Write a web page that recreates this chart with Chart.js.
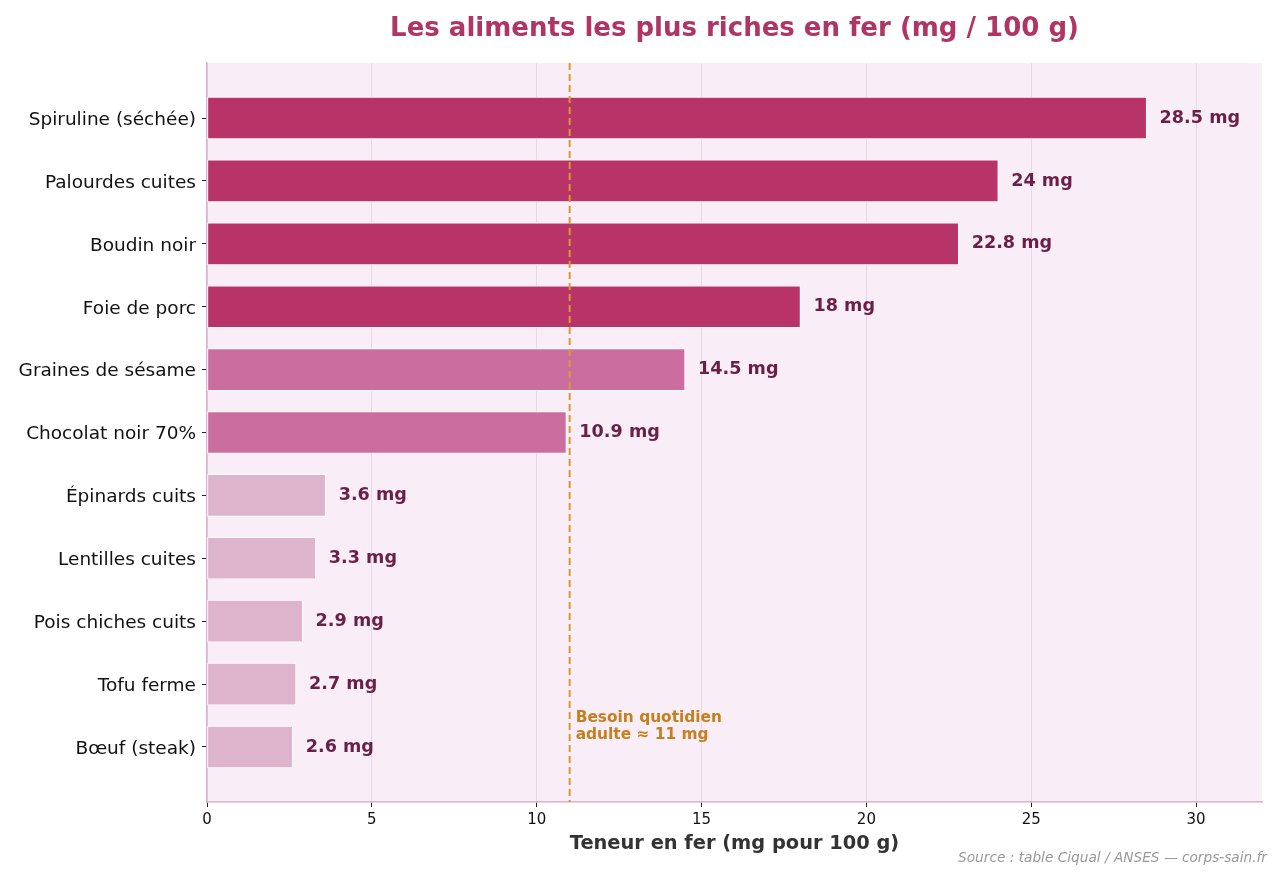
<!DOCTYPE html>
<html>
<head>
<meta charset="utf-8">
<script src="https://cdn.jsdelivr.net/npm/chart.js@4"></script>
<style>
  html, body { margin: 0; padding: 0; background: #fff; }
  #wrap { width: 1280px; height: 872px; }
</style>
</head>
<body>
<div id="wrap"><canvas id="chart" width="1280" height="872"></canvas></div>
<script>
const foods = ['Spiruline (séchée)', 'Palourdes cuites', 'Boudin noir', 'Foie de porc',
  'Graines de sésame', 'Chocolat noir 70%', 'Épinards cuits', 'Lentilles cuites',
  'Pois chiches cuits', 'Tofu ferme', 'Bœuf (steak)'];
const ironMg = [28.5, 24, 22.8, 18, 14.5, 10.9, 3.6, 3.3, 2.9, 2.7, 2.6];
const xTicks = [0, 5, 10, 15, 20, 25, 30];
const dailyNeed = 11;

const FONT = "'DejaVu Sans', sans-serif";

function barColor(v) {
  if (v >= 18) return '#b83368';
  if (v >= 10) return '#cb6e9f';
  return '#deb3cc';
}

const plotBg = {
  id: 'plotBg',
  beforeDraw(chart) {
    const { ctx, chartArea: a } = chart;
    ctx.save();
    ctx.fillStyle = '#f9eef7';
    ctx.fillRect(a.left, a.top, a.right - a.left, a.bottom - a.top);
    ctx.restore();
  }
};

const extras = {
  id: 'extras',
  afterDatasetsDraw(chart) {
    const { ctx, chartArea: a, scales } = chart;
    const xs = scales.x, ys = scales.y;
    ctx.save();

    // ligne du besoin quotidien
    const xl = xs.getPixelForValue(dailyNeed);
    ctx.strokeStyle = '#d99a2b';
    ctx.lineWidth = 2;
    ctx.setLineDash([7, 4]);
    ctx.beginPath();
    ctx.moveTo(xl, a.top);
    ctx.lineTo(xl, a.bottom);
    ctx.stroke();
    ctx.setLineDash([]);

    ctx.fillStyle = '#c57f1c';
    ctx.font = 'bold 15.4px ' + FONT;
    ctx.textAlign = 'left';
    ctx.textBaseline = 'middle';
    const yAnn = ys.getPixelForValue(9.55);
    ctx.fillText('Besoin quotidien', xl + 6, yAnn - 1);
    ctx.fillText('adulte ≈ 11 mg', xl + 6, yAnn + 16);

    // étiquettes de valeurs
    ctx.fillStyle = '#6b1f46';
    ctx.font = 'bold 17.6px ' + FONT;
    chart.getDatasetMeta(0).data.forEach((bar, i) => {
      ctx.fillText(ironMg[i] + ' mg', bar.x + 13, bar.y);
    });

    // titre
    ctx.fillStyle = '#b03565';
    ctx.font = 'bold 26px ' + FONT;
    ctx.textAlign = 'center';
    ctx.fillText('Les aliments les plus riches en fer (mg / 100 g)', (a.left + a.right) / 2, 29);

    // source
    ctx.fillStyle = '#999999';
    ctx.font = 'italic 13.7px ' + FONT;
    ctx.textAlign = 'right';
    ctx.fillText('Source : table Ciqual / ANSES — corps-sain.fr', 1267, 858);
    ctx.restore();
  }
};

new Chart(document.getElementById('chart'), {
  type: 'bar',
  data: {
    datasets: [{
      data: ironMg.map((v, i) => ({ x: v, y: i })),
      backgroundColor: ironMg.map(barColor),
      borderColor: '#ffffff',
      borderWidth: 1,
      borderSkipped: false,
      barThickness: 42
    }]
  },
  options: {
    indexAxis: 'y',
    responsive: false,
    animation: false,
    layout: { padding: { left: 0, right: 18, top: 63, bottom: 0 } },
    plugins: { legend: { display: false }, tooltip: { enabled: false } },
    scales: {
      x: {
        type: 'linear',
        min: 0,
        max: 32,
        afterFit: s => { s.height = 70; },
        afterBuildTicks: s => { s.ticks = xTicks.map(v => ({ value: v })); },
        ticks: { color: '#111', font: { family: FONT, size: 15 }, padding: 4 },
        grid: { color: '#e8d8e6', lineWidth: 1, tickColor: '#222', tickLength: 5 },
        border: { color: '#d7b2cb', width: 1.5 },
        title: {
          display: true,
          text: 'Teneur en fer (mg pour 100 g)',
          color: '#333',
          font: { family: FONT, size: 19.4, weight: 'bold' },
          padding: { top: 6, bottom: 16 }
        }
      },
      y: {
        type: 'linear',
        reverse: true,
        offset: false,
        min: -0.875,
        max: 10.875,
        afterFit: s => { s.width = 207; },
        afterBuildTicks: s => { s.ticks = foods.map((f, i) => ({ value: i })); },
        ticks: {
          color: '#111',
          font: { family: FONT, size: 18.5 },
          padding: 6,
          labelOffset: 2,
          callback: v => foods[v]
        },
        grid: { offset: false, drawOnChartArea: false, tickColor: '#222', tickLength: 5 },
        border: { color: '#d7b2cb', width: 1.5 }
      }
    }
  },
  plugins: [plotBg, extras]
});
</script>
</body>
</html>
